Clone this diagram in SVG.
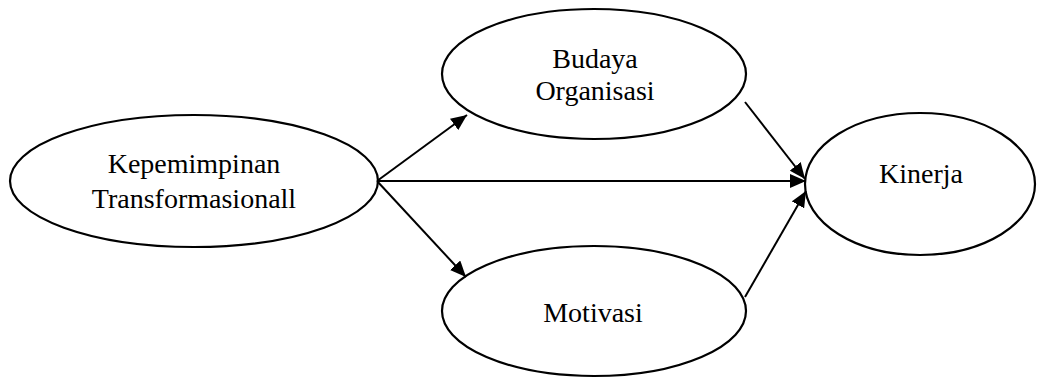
<svg xmlns="http://www.w3.org/2000/svg" width="1037" height="378" viewBox="0 0 1037 378">
<style>
.node ellipse{fill:#fff;stroke:#000;stroke-width:2.2}
.node text{font-family:"Liberation Serif","Times New Roman",serif;font-size:28px;fill:#000;text-anchor:middle}
.conn line{stroke:#000;stroke-width:2;marker-end:url(#arr)}
</style>
<defs>
<marker id="arr" markerUnits="userSpaceOnUse" markerWidth="17" markerHeight="14" refX="16" refY="7" orient="auto" viewBox="0 0 17 14">
<path d="M0,0 L16,7 L0,14 Z" fill="#000"/>
</marker>
</defs>
<rect width="1037" height="378" fill="#fff"/>
<g id="n-kepemimpinan" class="node">
<ellipse cx="194" cy="181" rx="184" ry="66"/>
<text x="194" y="173">Kepemimpinan</text>
<text x="194" y="208">Transformasionall</text>
</g>
<g id="n-budaya" class="node">
<ellipse cx="594" cy="74" rx="152" ry="65"/>
<text x="595" y="68">Budaya</text>
<text x="595" y="100">Organisasi</text>
</g>
<g id="n-motivasi" class="node">
<ellipse cx="594" cy="311" rx="152" ry="65"/>
<text x="593" y="322">Motivasi</text>
</g>
<g id="n-kinerja" class="node">
<ellipse cx="920" cy="184" rx="115" ry="71"/>
<text x="921" y="183">Kinerja</text>
</g>
<g id="connectors" class="conn">
<line x1="377" y1="181" x2="467" y2="115"/>
<line x1="377" y1="181" x2="806" y2="181"/>
<line x1="377" y1="181" x2="466" y2="277"/>
<line x1="745" y1="102" x2="805" y2="179"/>
<line x1="745" y1="297" x2="806" y2="191"/>
</g>
</svg>
